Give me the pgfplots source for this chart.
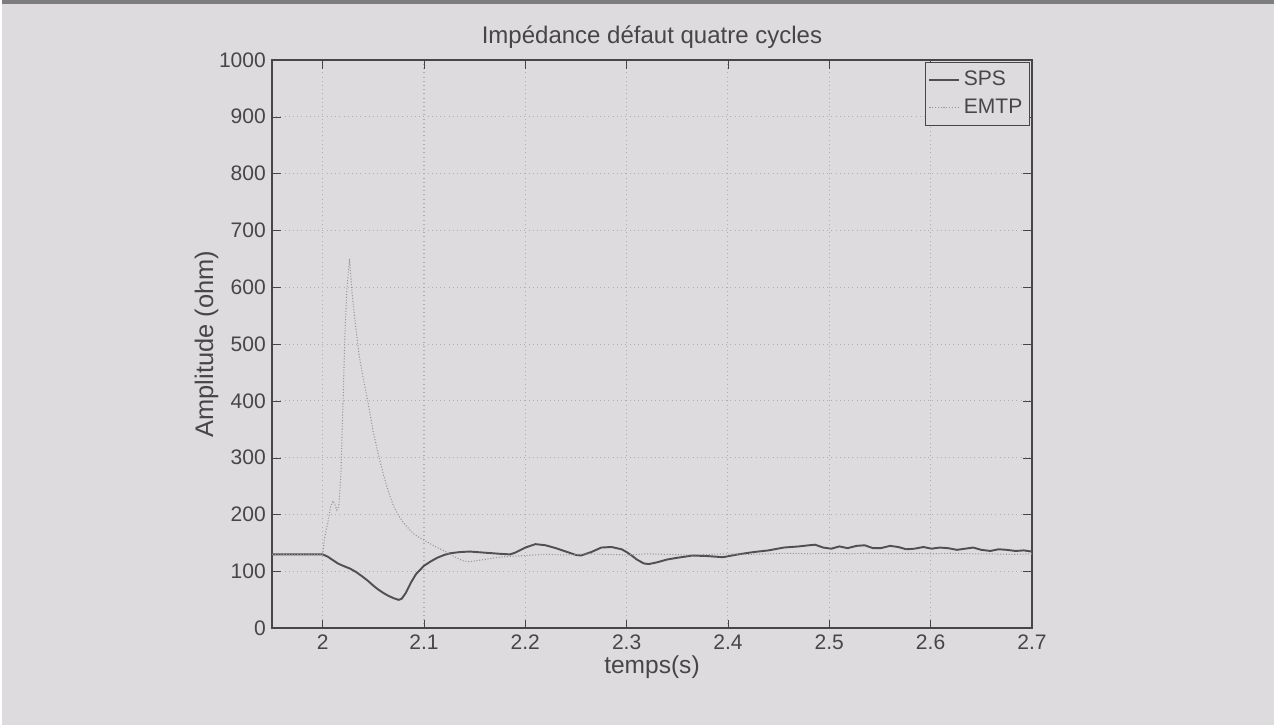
\documentclass[border=0pt]{standalone}
\usepackage{pgfplots}
\pgfplotsset{compat=1.18}
\usepackage{fontspec}
\setmainfont{Liberation Sans}
\definecolor{bg}{RGB}{221,219,221}
\definecolor{spsc}{RGB}{80,80,82}
\definecolor{emtpc}{RGB}{150,150,152}
\definecolor{gridc}{RGB}{175,175,178}
\definecolor{axc}{RGB}{70,70,72}
\begin{document}
\begin{tikzpicture}
\fill[bg] (0,0) rectangle (25.52cm,14.54cm);
\draw[axc!70,line width=2pt] (0,14.50cm) -- (25.52cm,14.50cm);
\begin{axis}[
  at={(5.42cm,1.94cm)}, anchor=south west,
  scale only axis, width=15.24cm, height=11.4cm,
  xmin=1.95, xmax=2.7, ymin=0, ymax=1000,
  xtick={2,2.1,2.2,2.3,2.4,2.5,2.6,2.7},
  ytick={0,100,200,300,400,500,600,700,800,900,1000},
  xticklabel style={/pgf/number format/fixed,/pgf/number format/precision=1},
  /pgf/number format/1000 sep={},
  /pgf/number format/assume math mode=true,
  tick label style={font=\fontsize{12}{14}\selectfont, text=axc},
  grid=major, grid style={dotted, gridc, line width=0.6pt},
  axis line style={axc, line width=0.9pt},
  tick align=inside, tick style={axc},
  major tick length=5pt,
  axis background/.style={fill=bg},
  title={Impédance défaut quatre cycles},
  title style={font=\fontsize{13.7}{15}\selectfont, text=axc, yshift=-3pt},
  xlabel={temps(s)},
  xlabel style={font=\fontsize{14}{16}\selectfont, text=axc, yshift=3pt},
  ylabel={Amplitude (ohm)},
  ylabel style={font=\fontsize{14.5}{16}\selectfont, text=axc, yshift=-6.5pt},
  legend style={at={(0.997,0.996)}, anchor=north east, draw=axc, fill=bg,
    font=\fontsize{12}{14}\selectfont, text=axc, row sep=2pt,
    inner xsep=2pt, inner ysep=3pt},
  legend cell align=left,
]
\addplot[spsc, line width=1.1pt] coordinates {
(1.95,130) (2.0,130) (2.005,126) (2.01,120) (2.015,114) (2.02,110) (2.027,105)
(2.033,99) (2.04,90) (2.045,83) (2.05,75) (2.055,68) (2.06,62) (2.065,57)
(2.07,53) (2.075,50) (2.078,52) (2.082,62) (2.087,80) (2.092,95) (2.1,110)
(2.107,118) (2.113,124) (2.12,129) (2.126,132) (2.135,134) (2.145,135)
(2.16,133) (2.175,131) (2.185,130) (2.19,133) (2.2,142) (2.21,148) (2.22,146)
(2.23,141) (2.24,135) (2.25,129) (2.255,128) (2.265,134) (2.275,142)
(2.285,143) (2.295,139) (2.3,134) (2.305,128) (2.31,121) (2.317,114)
(2.322,113) (2.33,116) (2.34,121) (2.35,124) (2.365,128) (2.38,127)
(2.395,125) (2.41,130) (2.425,134) (2.44,137) (2.455,142) (2.47,144)
(2.48,146) (2.486,147) (2.494,142) (2.502,140) (2.51,144) (2.518,141)
(2.527,145) (2.535,146) (2.543,141) (2.551,141) (2.56,145) (2.568,143)
(2.576,139) (2.584,140) (2.593,143) (2.601,140) (2.609,142) (2.617,141)
(2.626,138) (2.634,140) (2.642,142) (2.65,138) (2.659,136) (2.667,139)
(2.675,138) (2.684,136) (2.692,137) (2.7,135)
};
\addlegendentry{SPS}
\addplot[emtpc, line width=0.6pt, densely dotted] coordinates {
(1.95,130) (2.0,130) (2.002,160) (2.005,185) (2.008,215) (2.01,224) (2.012,218)
(2.014,208) (2.016,215) (2.018,270) (2.02,390) (2.022,520) (2.024,600)
(2.0265,650) (2.029,590) (2.032,540) (2.036,480) (2.04,440) (2.045,395)
(2.05,345) (2.055,305) (2.06,270) (2.065,240) (2.07,215) (2.075,198)
(2.08,185) (2.085,175) (2.09,166) (2.095,160) (2.1,155) (2.106,149)
(2.112,143) (2.119,137) (2.126,130) (2.132,124) (2.138,119) (2.145,117)
(2.152,119) (2.16,121) (2.17,124) (2.18,126) (2.19,127) (2.2,128)
(2.22,130) (2.24,129) (2.26,131) (2.28,130) (2.3,129) (2.32,131) (2.34,130)
(2.36,129) (2.38,130) (2.4,131) (2.42,130) (2.44,131) (2.46,132) (2.48,131)
(2.5,132) (2.52,131) (2.54,132) (2.56,131) (2.58,132) (2.6,131) (2.62,132)
(2.64,131) (2.66,131) (2.68,130) (2.7,131)
};
\addlegendentry{EMTP}
\end{axis}
\end{tikzpicture}
\end{document}
